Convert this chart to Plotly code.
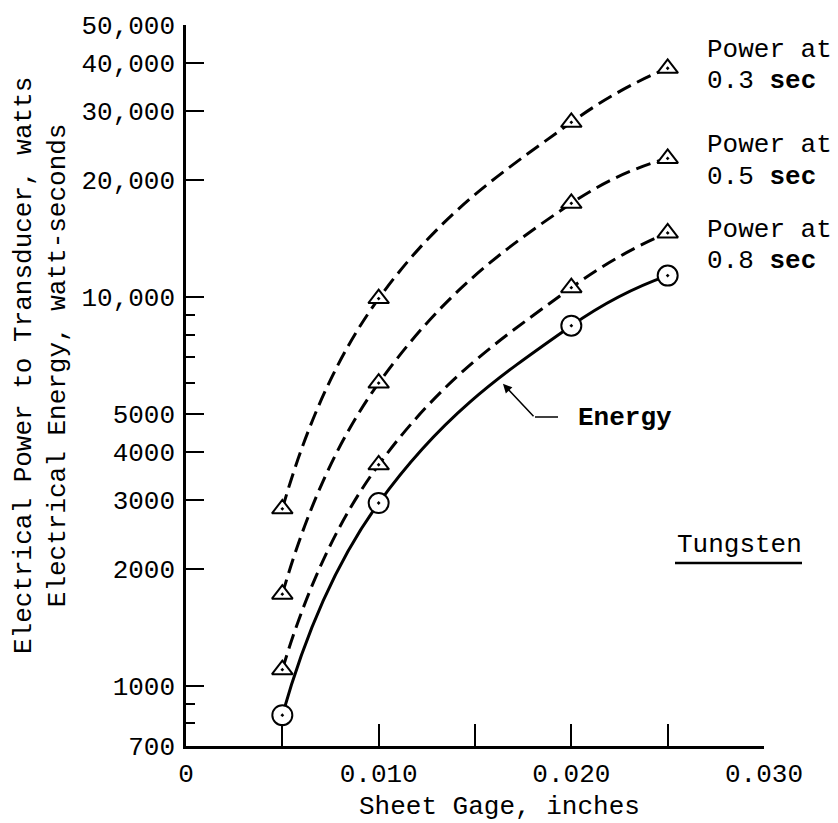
import math
import plotly.graph_objects as go

# ---- data ----
gage = [0.005, 0.010, 0.020, 0.025]
power_03 = [2850, 9900, 28100, 38700]
power_05 = [1720, 6000, 17400, 22700]
power_08 = [1100, 3700, 10560, 14600]
energy = [840, 2950, 8430, 11340]

x_tickvals = [0, 0.010, 0.020, 0.030]
x_ticktext = ["0", "0.010", "0.020", "0.030"]
x_minor = [0.005, 0.015, 0.025]
y_tickvals = [700, 1000, 2000, 3000, 4000, 5000, 10000, 20000, 30000, 40000, 50000]
y_ticktext = ["700", "1000", "2000", "3000", "4000", "5000",
              "10,000", "20,000", "30,000", "40,000", "50,000"]
y_minor = [800, 900, 6000, 7000, 8000, 9000]

FONT = "Liberation Mono"
FS = 26

# plot area in pixels
L, R, T, B = 186, 764, 25, 746
W, H = 838, 823


def px(xp):
    return (xp - L) / (R - L)


def py(yp):
    return (B - yp) / (B - T)


fig = go.Figure()

series = [
    (power_03, "15px,7px", "triangle-up-dot", 18),
    (power_05, "15px,7px", "triangle-up-dot", 18),
    (power_08, "15px,7px", "triangle-up-dot", 18),
    (energy, "solid", "circle-dot", 20),
]
for vals, dash, sym, size in series:
    fig.add_trace(go.Scatter(
        x=gage, y=vals, mode="lines+markers",
        line=dict(color="black", width=3, dash=dash, shape="spline", smoothing=1.3),
        marker=dict(symbol=sym, size=size, color="white",
                    line=dict(color="black", width=2)),
        showlegend=False, hoverinfo="skip",
    ))

axis_common = dict(
    showline=True, linecolor="black", linewidth=2.5,
    showgrid=False, zeroline=False, mirror=False,
    ticks="inside", tickcolor="black", tickwidth=1.5,
    tickfont=dict(family=FONT, size=FS, color="black"),
)

fig.update_xaxes(
    range=[0, 0.030], tickmode="array", tickvals=x_tickvals, ticktext=x_ticktext,
    ticklen=22, ticklabelstandoff=2,
    minor=dict(tickmode="array", tickvals=x_minor, ticks="inside", ticklen=22,
               tickwidth=1.5, tickcolor="black", showgrid=False),
    **axis_common,
)
fig.update_yaxes(
    type="log", range=[math.log10(700) - 1e-6, math.log10(50000) + 1e-6],
    tickmode="array", tickvals=y_tickvals, ticktext=y_ticktext,
    ticklen=18, ticklabelstandoff=3,
    minor=dict(tickmode="array", tickvals=y_minor, ticks="inside", ticklen=9,
               tickwidth=1.5, tickcolor="black", showgrid=False),
    **axis_common,
)

ann = []
# axis titles
ann.append(dict(text="Sheet Gage, inches", xref="paper", yref="paper",
                x=px(499), y=py(807), xanchor="center", yanchor="middle",
                showarrow=False, font=dict(family=FONT, size=FS)))
ann.append(dict(text="Electrical Power to Transducer, watts<br>Electrical Energy, watt-seconds",
                xref="paper", yref="paper", x=px(41), y=py(366),
                xanchor="center", yanchor="middle", textangle=-90,
                showarrow=False, font=dict(family=FONT, size=FS)))
# series labels
labels = [("Power at", 50), ("0.3 <b>sec</b>", 81),
          ("Power at", 145), ("0.5 <b>sec</b>", 177),
          ("Power at", 230), ("0.8 <b>sec</b>", 261)]
for txt, yy in labels:
    ann.append(dict(text=txt, xref="paper", yref="paper", x=px(705), y=py(yy),
                    xanchor="left", yanchor="middle", showarrow=False,
                    font=dict(family=FONT, size=FS)))
# Energy label and arrow
ann.append(dict(text="<b>Energy</b>", xref="paper", yref="paper", x=px(576), y=py(418),
                xanchor="left", yanchor="middle", showarrow=False,
                font=dict(family=FONT, size=FS)))
ann.append(dict(text="", xref="x", yref="y", x=0.01645, y=math.log10(5975),
                ax=32, ay=34, showarrow=True, arrowhead=2, arrowsize=1.2,
                arrowwidth=1.5, arrowcolor="black"))
# Tungsten
ann.append(dict(text="Tungsten", xref="paper", yref="paper", x=px(675), y=py(545),
                xanchor="left", yanchor="middle", showarrow=False,
                font=dict(family=FONT, size=FS)))

shapes = [
    dict(type="line", xref="paper", yref="paper", x0=px(535), x1=px(558),
         y0=py(417), y1=py(417), line=dict(color="black", width=1.5)),
    dict(type="line", xref="paper", yref="paper", x0=px(675), x1=px(802),
         y0=py(563), y1=py(563), line=dict(color="black", width=2.5)),
]

fig.update_layout(
    width=W, height=H,
    margin=dict(l=L, r=W - R, t=T, b=H - B),
    plot_bgcolor="white", paper_bgcolor="white",
    showlegend=False,
    font=dict(family=FONT, size=FS, color="black"),
    annotations=ann, shapes=shapes,
)

fig.write_html("out.html")
